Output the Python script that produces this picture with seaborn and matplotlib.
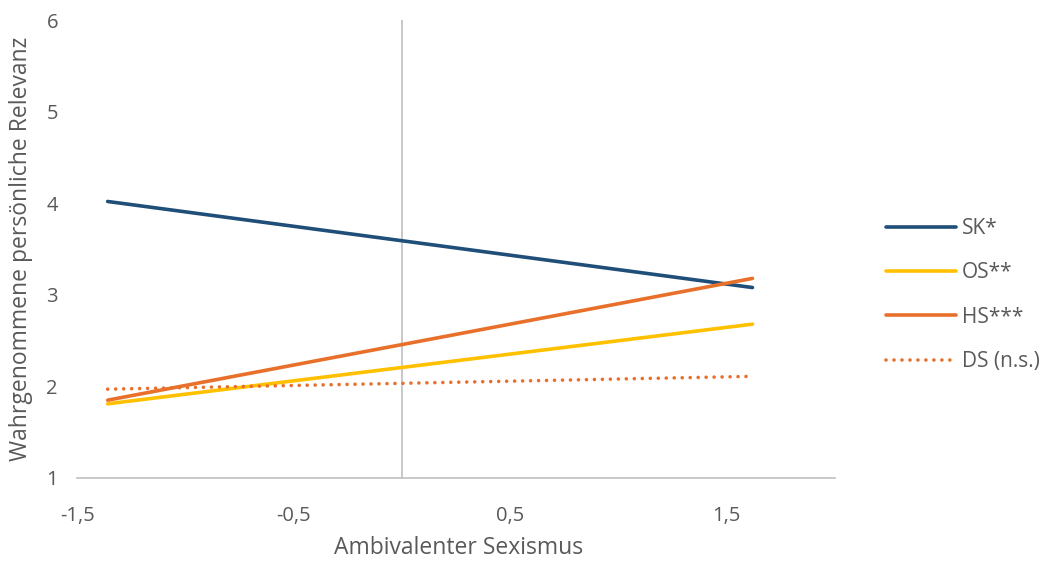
import matplotlib
matplotlib.use("Agg")
import matplotlib.pyplot as plt
import seaborn as sns
import pandas as pd

x_points = [-1.36, 1.62]
sk = [4.02, 3.08]
os_ = [1.81, 2.68]
hs = [1.85, 3.18]
ds = [1.97, 2.11]
series_names = ["SK*", "OS**", "HS***", "DS (n.s.)"]
x_ticks = [-1.5, -0.5, 0.5, 1.5]
x_tick_labels = ["-1,5", "-0,5", "0,5", "1,5"]
y_ticks = [1, 2, 3, 4, 5, 6]

colors = {"SK*": "#1F4E79", "OS**": "#FFC000", "HS***": "#E8702A", "DS (n.s.)": "#E8702A"}

rows = []
for name, vals in zip(series_names, [sk, os_, hs, ds]):
    for xv, yv in zip(x_points, vals):
        rows.append({"x": xv, "y": yv, "Serie": name})
df = pd.DataFrame(rows)

sns.set_theme(style="white")
plt.rcParams['font.family'] = ['Open Sans', 'DejaVu Sans']

fig = plt.figure(figsize=(10.46, 5.61), dpi=100)
ax = fig.add_axes([0.074, 0.148, 0.724, 0.816])

ax.axvline(0, color="#BFBFBF", lw=1.2, zorder=1)

for name in series_names:
    sub = df[df["Serie"] == name]
    ls = (0, (0.01, 2.2)) if name == "DS (n.s.)" else "-"
    sns.lineplot(data=sub, x="x", y="y", ax=ax, color=colors[name], lw=2.6,
                 linestyle=ls, label=name, zorder=3, solid_capstyle="round",
                 dash_capstyle="round")

ax.set_xlim(-1.5, 2.0)
ax.set_ylim(1, 6)
ax.set_xticks(x_ticks)
ax.set_xticklabels(x_tick_labels)
ax.set_yticks(y_ticks)
ax.set_yticklabels([str(v) for v in y_ticks])
ax.tick_params(axis="both", colors="#595959", labelsize=14.5, length=0)
ax.tick_params(axis="x", pad=20)
ax.tick_params(axis="y", pad=14)

for s in ["top", "right", "left"]:
    ax.spines[s].set_visible(False)
ax.spines["bottom"].set_color("#BFBFBF")
ax.spines["bottom"].set_linewidth(1.2)

ax.set_xlabel("Ambivalenter Sexismus", color="#595959", fontsize=16.5)
ax.set_ylabel("Wahrgenommene persönliche Relevanz", color="#595959", fontsize=16.5)
ax.xaxis.set_label_coords(0.503, -0.153)
ax.xaxis.label.set_va("center")
ax.yaxis.set_label_coords(-0.074, 0.50)
ax.yaxis.label.set_va("center")

leg = ax.legend(loc="center left", bbox_to_anchor=(1.043, 0.40), frameon=False,
                fontsize=15, handlelength=3.35, labelspacing=1.12, handletextpad=0.3)
for t in leg.get_texts():
    t.set_color("#595959")

fig.savefig("out.png", dpi=100)
